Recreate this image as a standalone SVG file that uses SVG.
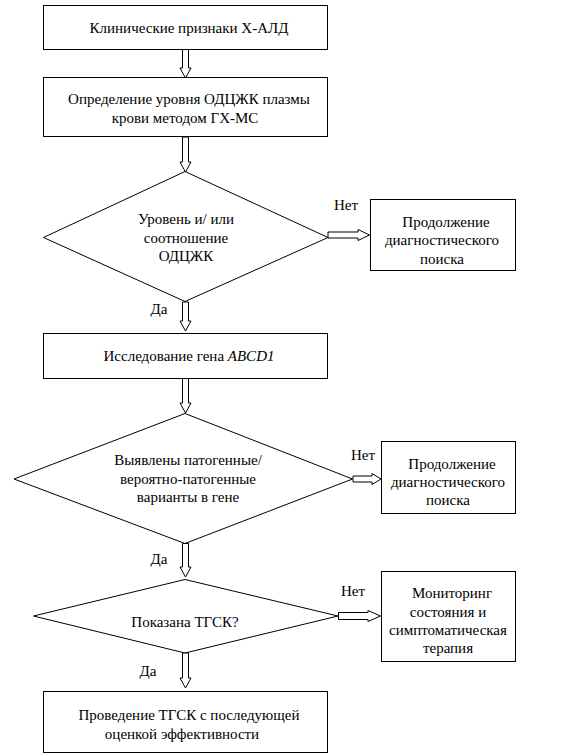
<svg xmlns="http://www.w3.org/2000/svg" width="570" height="754" viewBox="0 0 570 754">
<style>
.b{fill:#fff;stroke:#000;stroke-width:1}
.a{fill:#fff;stroke:#000;stroke-width:1}
</style>
<rect width="570" height="754" fill="#fff"/>
<g id="n1"><rect class="b" x="43.5" y="5.5" width="284" height="44"/><text font-family="Liberation Serif" font-size="15" text-anchor="middle" x="189" y="33">Клинические признаки Х-АЛД</text></g>
<g id="n2"><rect class="b" x="43.5" y="77.5" width="284" height="59"/><text font-family="Liberation Serif" font-size="15" text-anchor="middle" x="189" y="104">Определение уровня ОДЦЖК плазмы</text><text font-family="Liberation Serif" font-size="15" text-anchor="middle" x="185" y="123">крови методом ГХ-МС</text></g>
<g id="n3"><polygon class="b" points="185,171.5 328,237.5 185,301.5 43.5,237.5"/><text font-family="Liberation Serif" font-size="15" text-anchor="middle" x="186" y="224">Уровень и/ или</text><text font-family="Liberation Serif" font-size="15" text-anchor="middle" x="186" y="242.5">соотношение</text><text font-family="Liberation Serif" font-size="15" text-anchor="middle" x="186" y="261">ОДЦЖК</text></g>
<g id="n4"><rect class="b" x="370.5" y="199.5" width="145" height="71"/><text font-family="Liberation Serif" font-size="15" text-anchor="middle" x="446" y="226.5">Продолжение</text><text font-family="Liberation Serif" font-size="15" text-anchor="middle" x="442" y="245">диагностического</text><text font-family="Liberation Serif" font-size="15" text-anchor="middle" x="442" y="263.5">поиска</text></g>
<g id="n5"><rect class="b" x="43.5" y="333.5" width="284" height="45"/><text font-family="Liberation Serif" font-size="15" text-anchor="middle" x="189" y="360.5">Исследование гена <tspan font-style="italic">ABCD1</tspan></text></g>
<g id="n6"><polygon class="b" points="185,413.5 352.5,479 185,543.5 14,479"/><text font-family="Liberation Serif" font-size="15" text-anchor="middle" x="188" y="465">Выявлены патогенные/</text><text font-family="Liberation Serif" font-size="15" text-anchor="middle" x="188" y="483.5">вероятно-патогенные</text><text font-family="Liberation Serif" font-size="15" text-anchor="middle" x="188" y="502">варианты в гене</text></g>
<g id="n7"><rect class="b" x="381.5" y="441.5" width="134" height="72"/><text font-family="Liberation Serif" font-size="15" text-anchor="middle" x="452" y="468.5">Продолжение</text><text font-family="Liberation Serif" font-size="15" text-anchor="middle" x="448" y="487">диагностического</text><text font-family="Liberation Serif" font-size="15" text-anchor="middle" x="448" y="505">поиска</text></g>
<g id="n8"><polygon class="b" points="185,579.5 338,616 185,653 33.5,616"/><text font-family="Liberation Serif" font-size="15" text-anchor="middle" x="185" y="626.5">Показана ТГСК?</text></g>
<g id="n9"><rect class="b" x="381.5" y="571.5" width="134" height="90"/><text font-family="Liberation Serif" font-size="15" text-anchor="middle" x="452" y="598">Мониторинг</text><text font-family="Liberation Serif" font-size="15" text-anchor="middle" x="448" y="616.5">состояния и</text><text font-family="Liberation Serif" font-size="15" text-anchor="middle" x="448" y="635">симптоматическая</text><text font-family="Liberation Serif" font-size="15" text-anchor="middle" x="448" y="653">терапия</text></g>
<g id="n10"><rect class="b" x="43.5" y="691.5" width="284" height="61"/><text font-family="Liberation Serif" font-size="15" text-anchor="middle" x="189" y="720">Проведение ТГСК с последующей</text><text font-family="Liberation Serif" font-size="15" text-anchor="middle" x="182" y="738.5">оценкой эффективности</text></g>
<g id="connectors">
<polygon class="a" points="182.5,49.5 188.5,49.5 188.5,68 191,68 185.5,78 180,68 182.5,68"/>
<polygon class="a" points="182.5,137 188.5,137 188.5,162 191,162 185.5,172 180,162 182.5,162"/>
<polygon class="a" points="182.5,302 188.5,302 188.5,321 191,321 185.5,331 180,321 182.5,321"/>
<polygon class="a" points="182.5,378.5 188.5,378.5 188.5,403 191,403 185.5,413 180,403 182.5,403"/>
<polygon class="a" points="182.5,543.5 188.5,543.5 188.5,567 191,567 185.5,577 180,567 182.5,567"/>
<polygon class="a" points="182.5,653 188.5,653 188.5,678 191,678 185.5,688 180,678 182.5,678"/>
<polygon class="a" points="328,232 358,232 358,229.5 369.5,235 358,240.5 358,238 328,238"/>
<polygon class="a" points="353,476 372,476 372,473.5 381,479 372,484.5 372,482 353,482"/>
<polygon class="a" points="338.5,612.5 368,612.5 368,610.5 380.5,616 368,621.5 368,619.5 338.5,619.5"/>
<text font-family="Liberation Serif" font-size="15" text-anchor="middle" x="346" y="210">Нет</text>
<text font-family="Liberation Serif" font-size="15" text-anchor="middle" x="159" y="314">Да</text>
<text font-family="Liberation Serif" font-size="15" text-anchor="middle" x="363" y="460">Нет</text>
<text font-family="Liberation Serif" font-size="15" text-anchor="middle" x="159" y="564">Да</text>
<text font-family="Liberation Serif" font-size="15" text-anchor="middle" x="353" y="596">Нет</text>
<text font-family="Liberation Serif" font-size="15" text-anchor="middle" x="148" y="676">Да</text>
</g>
</svg>
